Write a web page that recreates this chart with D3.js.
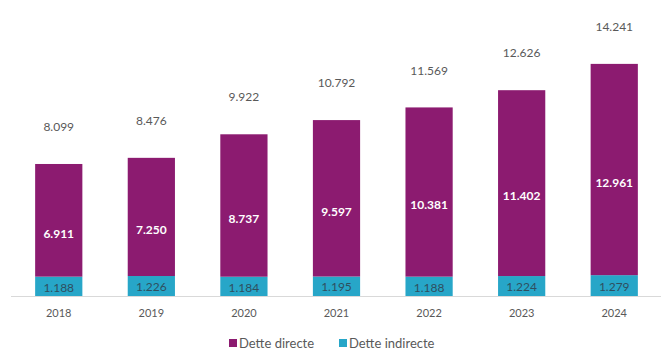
<!DOCTYPE html>
<html>
<head>
<meta charset="utf-8">
<script src="https://cdn.jsdelivr.net/npm/d3@7"></script>
<style>
  body { margin: 0; background: #fff; }
  text { font-family: Lato, "Open Sans", sans-serif; }
</style>
</head>
<body>
<div id="chart"></div>
<script>
// Values
const years = ['2018', '2019', '2020', '2021', '2022', '2023', '2024'];
const directe = [6911, 7250, 8737, 9597, 10381, 11402, 12961];
const indirecte = [1188, 1226, 1184, 1195, 1188, 1224, 1279];
const totals = [8099, 8476, 9922, 10792, 11569, 12626, 14241];
const seriesNames = ['Dette directe', 'Dette indirecte'];

const width = 661, height = 352;
const colors = { direct: '#8c1b70', indirect: '#27a6c8' };
const fmt = v => d3.format(',')(v).replace(/,/g, '.');

const svg = d3.select('#chart').append('svg')
  .attr('width', width)
  .attr('height', height);

const x = d3.scaleBand()
  .domain(years)
  .range([12, 661])
  .paddingInner(0.49)
  .paddingOuter(0.25);

const y = d3.scaleLinear()
  .domain([0, 15000])
  .range([296, 51.5]);

const rows = years.map((yr, i) => ({
  year: yr, direct: directe[i], indirect: indirecte[i], total: totals[i]
}));

// baseline
svg.append('line')
  .attr('x1', 11).attr('x2', 661)
  .attr('y1', y(0) + 0.5).attr('y2', y(0) + 0.5)
  .attr('stroke', '#d9d9d9');

const g = svg.selectAll('g.bar').data(rows).enter().append('g');

// indirect (bottom)
g.append('rect')
  .attr('x', d => x(d.year))
  .attr('width', x.bandwidth())
  .attr('y', d => y(d.indirect))
  .attr('height', d => y(0) - y(d.indirect))
  .attr('fill', colors.indirect);

// direct (stacked on top)
g.append('rect')
  .attr('x', d => x(d.year))
  .attr('width', x.bandwidth())
  .attr('y', d => y(d.indirect + d.direct))
  .attr('height', d => y(d.indirect) - y(d.indirect + d.direct))
  .attr('fill', colors.direct);

const cx = d => x(d.year) + x.bandwidth() / 2;

g.append('text')
  .attr('x', cx)
  .attr('y', d => (y(0) + y(d.indirect)) / 2 + 1)
  .attr('dy', '0.35em')
  .attr('text-anchor', 'middle')
  .attr('font-size', 12)
  .attr('fill', '#2f4f5f')
  .text(d => fmt(d.indirect));

g.append('text')
  .attr('x', cx)
  .attr('y', d => y((d.indirect + d.total) / 2) + 13)
  .attr('dy', '0.35em')
  .attr('text-anchor', 'middle')
  .attr('font-size', 12)
  .attr('font-weight', 'bold')
  .attr('fill', '#ffffff')
  .text(d => fmt(d.direct));

g.append('text')
  .attr('x', cx)
  .attr('y', d => y(d.total) - 37)
  .attr('dy', '0.35em')
  .attr('text-anchor', 'middle')
  .attr('font-size', 12)
  .attr('fill', '#595959')
  .text(d => fmt(d.total));

// year labels
g.append('text')
  .attr('x', cx)
  .attr('y', 313)
  .attr('dy', '0.35em')
  .attr('text-anchor', 'middle')
  .attr('font-size', 11)
  .attr('fill', '#595959')
  .text(d => d.year);

// legend
const legendX = [229, 339];
const legendColors = [colors.direct, colors.indirect];
const lg = svg.selectAll('g.legend').data(seriesNames).enter().append('g')
  .attr('transform', (d, i) => `translate(${legendX[i]},339)`);
lg.append('rect')
  .attr('width', 8).attr('height', 8)
  .attr('fill', (d, i) => legendColors[i]);
lg.append('text')
  .attr('x', 10).attr('y', 4)
  .attr('dy', '0.35em')
  .attr('font-size', 13)
  .attr('fill', '#595959')
  .text(d => d);
</script>
</body>
</html>
